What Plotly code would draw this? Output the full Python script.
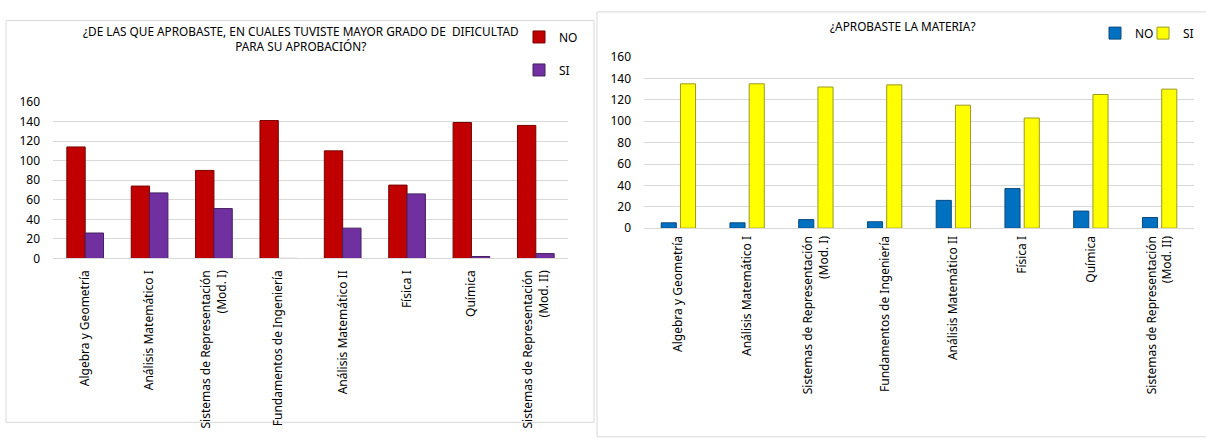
import plotly.graph_objects as go

W, H = 1206, 439

categories = [
    "Algebra y Geometría",
    "Análisis Matemático I",
    "Sistemas de Representación<br>(Mod. I)",
    "Fundamentos de Ingeniería",
    "Análisis Matemático II",
    "Física I",
    "Química",
    "Sistemas de Representación<br>(Mod. II)",
]

# Left chart: difficulty among passed subjects
dif_no = [114, 74, 90, 141, 110, 75, 139, 136]
dif_si = [26, 67, 51, 0, 31, 66, 2, 5]

# Right chart: passed the subject?
apr_no = [5, 5, 8, 6, 26, 37, 16, 10]
apr_si = [135, 135, 132, 134, 115, 103, 125, 130]

y_ticks = [0, 20, 40, 60, 80, 100, 120, 140, 160]

title_left = "¿DE LAS QUE APROBASTE, EN CUALES TUVISTE MAYOR GRADO DE  DIFICULTAD<br>PARA SU APROBACIÓN?"
title_right = "¿APROBASTE LA MATERIA?"

FONT = "Noto Sans, DejaVu Sans, sans-serif"
GRID = "#D9D9D9"


def px(x):
    return x / W


def py(y):
    return 1 - y / H


fig = go.Figure()

fig.add_trace(go.Bar(x=categories, y=dif_no, name="NO", xaxis="x", yaxis="y",
                     width=0.285, offset=-0.285,
                     marker=dict(color="#C00000", line=dict(color="#7A0000", width=1)),
                     legend="legend", legendgroup="a"))
fig.add_trace(go.Bar(x=categories, y=dif_si, name="SI", xaxis="x", yaxis="y",
                     width=0.285, offset=0.0,
                     marker=dict(color="#7030A0", line=dict(color="#45205F", width=1)),
                     legend="legend", legendgroup="b"))
fig.add_trace(go.Bar(x=categories, y=apr_no, name="NO", xaxis="x2", yaxis="y2",
                     width=0.22, offset=-0.25,
                     marker=dict(color="#0070C0", line=dict(color="#0A4A80", width=1)),
                     legend="legend2"))
fig.add_trace(go.Bar(x=categories, y=apr_si, name="SI", xaxis="x2", yaxis="y2",
                     width=0.22, offset=0.03,
                     marker=dict(color="#FFFF00", line=dict(color="#9A9A20", width=1)),
                     legend="legend3"))

xcommon = dict(type="category", tickangle=-90, showgrid=False, showline=True,
               linecolor=GRID, linewidth=1, ticks="",
               tickfont=dict(family=FONT, size=12, color="#000"), fixedrange=True)
ycommon = dict(range=[0, 160], tickvals=y_ticks, showgrid=True, gridcolor=GRID,
               gridwidth=1, zeroline=True, zerolinecolor=GRID, zerolinewidth=1,
               showline=False, ticks="", ticklabelstandoff=12,
               tickfont=dict(family=FONT, size=12, color="#000"), fixedrange=True)

legfont = dict(family=FONT, size=12, color="#000")

fig.update_layout(
    width=W, height=H,
    margin=dict(l=0, r=0, t=0, b=0),
    paper_bgcolor="white", plot_bgcolor="white",
    barmode="group",
    font=dict(family=FONT, size=12, color="#000"),
    xaxis=dict(domain=[px(53), px(568)], anchor="y", ticklabelstandoff=6, **xcommon),
    yaxis=dict(domain=[py(259.5), py(96.7)], anchor="x", **ycommon),
    xaxis2=dict(domain=[px(644), px(1194)], anchor="y2", ticklabelstandoff=2, **xcommon),
    yaxis2=dict(domain=[py(228), py(50)], anchor="x2", **ycommon),
    legend=dict(x=px(519), y=py(14), xanchor="left", yanchor="top",
                orientation="v", tracegroupgap=14, bgcolor="rgba(0,0,0,0)",
                font=legfont, itemwidth=30, traceorder="grouped"),
    legend2=dict(x=px(1095), y=py(10), xanchor="left", yanchor="top",
                 orientation="h", bgcolor="rgba(0,0,0,0)",
                 font=legfont, itemwidth=30),
    legend3=dict(x=px(1143), y=py(10), xanchor="left", yanchor="top",
                 orientation="h", bgcolor="rgba(0,0,0,0)",
                 font=legfont, itemwidth=30),
    showlegend=True,
)

fig.add_annotation(text=title_left, xref="paper", yref="paper", x=px(301), y=py(12),
                   xanchor="center", yanchor="top", showarrow=False, align="center",
                   font=dict(family=FONT, size=11.8, color="#000"))
fig.add_annotation(text=title_right, xref="paper", yref="paper", x=px(903), y=py(7),
                   xanchor="center", yanchor="top", showarrow=False, align="center",
                   font=dict(family=FONT, size=11.8, color="#000"))

# chart frames
fig.add_shape(type="rect", xref="paper", yref="paper", x0=px(6), x1=px(594),
              y0=py(430), y1=py(12), line=dict(color=GRID, width=1), layer="below")
fig.add_shape(type="rect", xref="paper", yref="paper", x0=px(597), x1=px(1210),
              y0=py(445), y1=py(3), line=dict(color=GRID, width=1), layer="below")

fig.write_html("out.html")
